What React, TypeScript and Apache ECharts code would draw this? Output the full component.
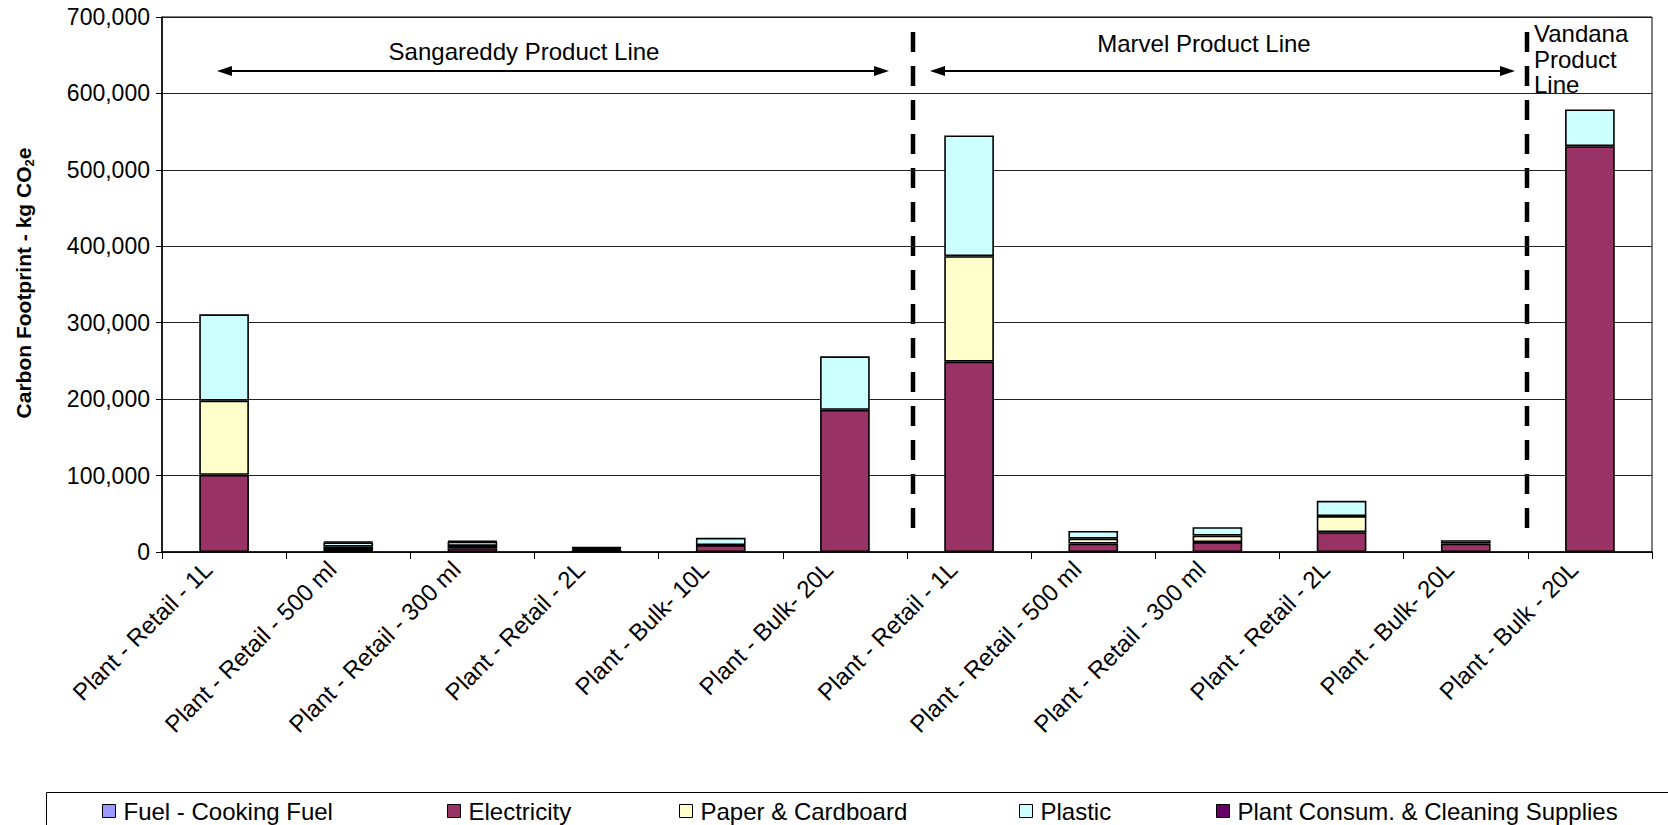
import React, { useEffect, useRef } from "react";
import * as echarts from "echarts";

const categories = [
  "Plant - Retail - 1L",
  "Plant - Retail - 500 ml",
  "Plant - Retail - 300 ml",
  "Plant - Retail - 2L",
  "Plant - Bulk- 10L",
  "Plant - Bulk- 20L",
  "Plant - Retail - 1L",
  "Plant - Retail - 500 ml",
  "Plant - Retail - 300 ml",
  "Plant - Retail - 2L",
  "Plant - Bulk- 20L",
  "Plant - Bulk - 20L",
];

const seriesNames = [
  "Fuel - Cooking Fuel",
  "Electricity",
  "Paper & Cardboard",
  "Plastic",
  "Plant Consum. & Cleaning Supplies",
];

const fuel = [0, 0, 0, 0, 0, 0, 0, 0, 0, 0, 0, 0];
const electricity = [101000, 4000, 5000, 2500, 9000, 186000, 249000, 11000, 13000, 26000, 11000, 531000];
const paper = [97000, 3000, 3000, 1500, 0, 0, 138000, 6500, 8500, 21000, 0, 0];
const plastic = [113000, 5500, 5500, 1500, 9500, 70000, 158000, 10000, 11000, 20000, 4500, 48000];
const plantConsum = [0, 1000, 1000, 500, 0, 0, 0, 0, 0, 0, 0, 0];

const yTicks = [0, 100000, 200000, 300000, 400000, 500000, 600000, 700000];

const colors = ["#9999FF", "#993366", "#FFFFCC", "#CCFFFF", "#660066"];
const legendLeft = [102, 447, 679, 1019, 1216];

const FONT = "Arial, 'Liberation Sans', sans-serif";

export default function App() {
  const ref = useRef<HTMLDivElement>(null);

  useEffect(() => {
    document.body.style.margin = "0";
    if (!ref.current) return;
    const chart = echarts.init(ref.current, undefined, { renderer: "svg" });
    const allData = [fuel, electricity, paper, plastic, plantConsum];

    const option: any = {
      animation: false,
      backgroundColor: "#fff",
      textStyle: { fontFamily: FONT },
      grid: {
        left: 162,
        right: 16,
        top: 17,
        bottom: 273,
        show: true,
        borderColor: "#000",
        borderWidth: 1,
        backgroundColor: "transparent",
      },
      xAxis: {
        type: "category",
        data: categories,
        boundaryGap: true,
        axisLine: { lineStyle: { color: "#000", width: 1.5 } },
        axisTick: { show: true, length: 7, lineStyle: { color: "#000" } },
        axisLabel: {
          rotate: 45,
          interval: 0,
          fontSize: 24,
          color: "#000",
          fontFamily: FONT,
          margin: 14,
          verticalAlign: "bottom",
          padding: [0, 11, 0, 0],
        },
      },
      yAxis: {
        type: "value",
        min: yTicks[0],
        max: yTicks[yTicks.length - 1],
        interval: 100000,
        axisLine: { show: true, lineStyle: { color: "#000", width: 1.5 } },
        axisTick: { show: true, length: 6, lineStyle: { color: "#000" } },
        axisLabel: {
          fontSize: 23,
          color: "#000",
          fontFamily: FONT,
          margin: 12,
          formatter: (v: number) => v.toLocaleString("en-US"),
        },
        splitLine: { show: true, lineStyle: { color: "#222", width: 1 } },
      },
      legend: seriesNames.map((n, i) => ({
        data: [n],
        left: legendLeft[i] - 5,
        top: 794,
        icon: "rect",
        itemWidth: 13,
        itemHeight: 13,
        itemGap: 0,
        itemStyle: { borderColor: "#000", borderWidth: 1 },
        textStyle: { fontSize: 24, color: "#000", fontFamily: FONT, padding: [0, 0, 0, 3] },
      })),
      series: seriesNames.map((n, i) => ({
        name: n,
        type: "bar",
        stack: "total",
        barWidth: "40%",
        data: allData[i].map((v) => (v === 0 ? null : v)),
        itemStyle: { color: colors[i], borderColor: "#000", borderWidth: 1.6 },
      })),
      graphic: [
        {
          type: "rect",
          left: 44,
          top: 790,
          shape: { width: 1700, height: 100 },
          style: { fill: "none", stroke: "#000", lineWidth: 1 },
          z: -1,
        },
        {
          type: "text",
          x: 23,
          y: 283,
          rotation: Math.PI / 2,
          style: {
            text: "{a|Carbon Footprint - kg CO}{s|2}{a|e}",
            align: "center",
            verticalAlign: "middle",
            rich: {
              a: { fontSize: 21, fontWeight: "bold", fontFamily: FONT, fill: "#000", lineHeight: 25, verticalAlign: "middle" },
              s: { fontSize: 13, fontWeight: "bold", fontFamily: FONT, fill: "#000", lineHeight: 12, verticalAlign: "bottom" },
            },
          },
        },
        // dashed separators
        {
          type: "line",
          shape: { x1: 913, y1: 32, x2: 913, y2: 541 },
          style: { stroke: "#000", lineWidth: 4.5, lineDash: [20, 14] },
        },
        {
          type: "line",
          shape: { x1: 1527, y1: 32, x2: 1527, y2: 541 },
          style: { stroke: "#000", lineWidth: 4.5, lineDash: [20, 14] },
        },
        // Sangareddy arrow
        {
          type: "line",
          shape: { x1: 228, y1: 71, x2: 878, y2: 71 },
          style: { stroke: "#000", lineWidth: 2 },
        },
        {
          type: "polygon",
          shape: { points: [[217, 71], [232, 66], [232, 76]] },
          style: { fill: "#000" },
        },
        {
          type: "polygon",
          shape: { points: [[889, 71], [874, 66], [874, 76]] },
          style: { fill: "#000" },
        },
        // Marvel arrow
        {
          type: "line",
          shape: { x1: 941, y1: 71, x2: 1504, y2: 71 },
          style: { stroke: "#000", lineWidth: 2 },
        },
        {
          type: "polygon",
          shape: { points: [[930, 71], [945, 66], [945, 76]] },
          style: { fill: "#000" },
        },
        {
          type: "polygon",
          shape: { points: [[1515, 71], [1500, 66], [1500, 76]] },
          style: { fill: "#000" },
        },
        {
          type: "text",
          x: 524,
          y: 51,
          style: { text: "Sangareddy Product Line", font: `24px ${FONT}`, fill: "#000", align: "center", verticalAlign: "middle" },
        },
        {
          type: "text",
          x: 1204,
          y: 43,
          style: { text: "Marvel Product Line", font: `24px ${FONT}`, fill: "#000", align: "center", verticalAlign: "middle" },
        },
        {
          type: "text",
          x: 1534,
          y: 21,
          style: {
            text: "Vandana\nProduct\nLine",
            font: `24px ${FONT}`,
            lineHeight: 25.5,
            fill: "#000",
            align: "left",
            verticalAlign: "top",
          },
        },
      ],
    };
    chart.setOption(option);
    return () => chart.dispose();
  }, []);

  return <div ref={ref} style={{ width: 1668, height: 825 }} />;
}
